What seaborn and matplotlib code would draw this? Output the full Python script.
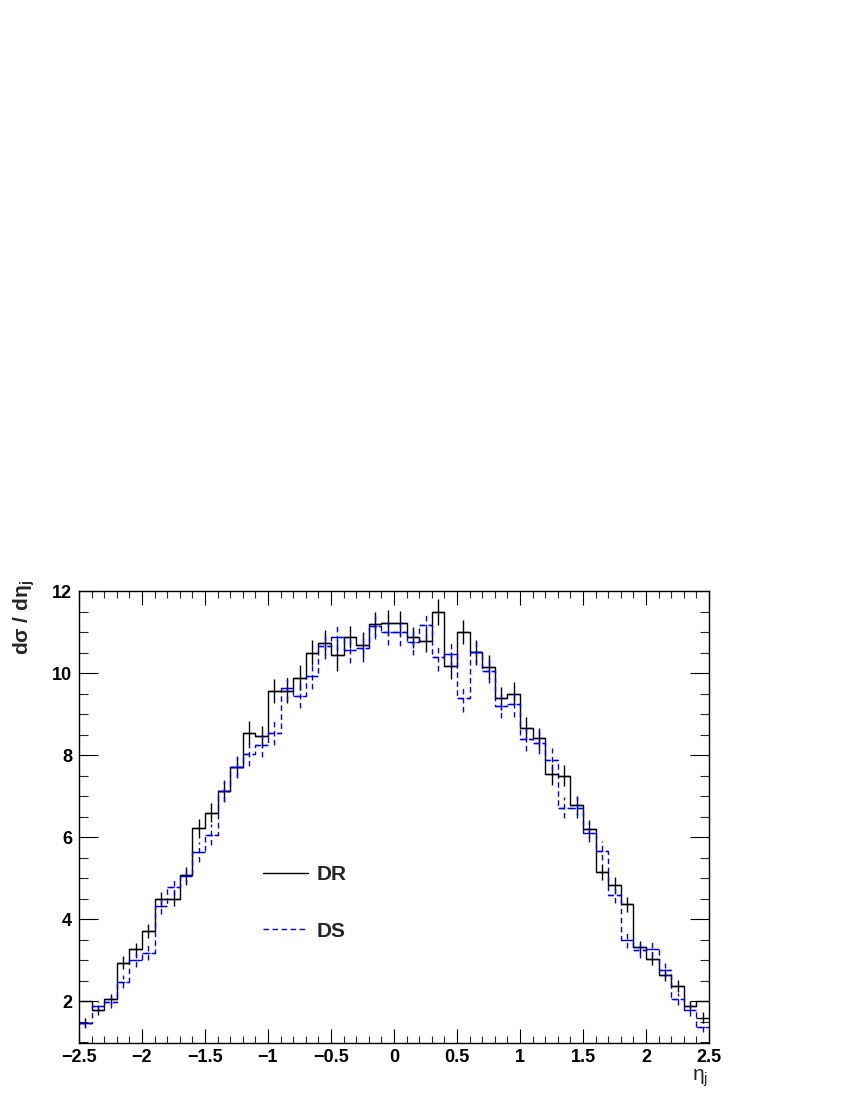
import numpy as np
import pandas as pd
import matplotlib
matplotlib.use('Agg')
import matplotlib.pyplot as plt
from matplotlib.lines import Line2D
from matplotlib.ticker import MultipleLocator, FuncFormatter
import seaborn as sns

# binning: 50 bins in eta_j
eta_lo, eta_hi, nbins = -2.5, 2.5, 50

# DR histogram outline and DR points (error crosses)
dr_hist = [2.00, 1.78, 2.05, 2.94, 3.26, 3.71, 4.48, 4.50, 5.07, 6.21,
           6.59, 7.12, 7.71, 8.55, 8.46, 9.57, 9.56, 9.89, 10.50, 10.74,
           10.43, 10.87, 10.69, 11.20, 11.23, 11.22, 10.87, 10.79, 11.49, 10.18,
           11.01, 10.52, 10.15, 9.38, 9.50, 8.65, 8.41, 7.53, 7.50, 6.78,
           6.20, 5.15, 4.83, 4.36, 3.31, 3.04, 2.63, 2.37, 1.89, 2.00]
dr_pts = [1.47, 1.78, 2.05, 2.94, 3.26, 3.71, 4.48, 4.50, 5.07, 6.21,
          6.59, 7.12, 7.71, 8.55, 8.46, 9.57, 9.56, 9.89, 10.50, 10.74,
          10.43, 10.87, 10.69, 11.20, 11.23, 11.22, 10.87, 10.79, 11.49, 10.18,
          11.01, 10.52, 10.15, 9.38, 9.50, 8.65, 8.41, 7.53, 7.50, 6.78,
          6.20, 5.15, 4.83, 4.36, 3.31, 3.04, 2.63, 2.37, 1.89, 1.60]
dr_err = [0.11, 0.12, 0.13, 0.15, 0.16, 0.17, 0.19, 0.19, 0.20, 0.22,
          0.23, 0.24, 0.25, 0.27, 0.26, 0.29, 0.28, 0.30, 0.30, 0.30,
          0.38, 0.27, 0.30, 0.30, 0.30, 0.30, 0.26, 0.28, 0.31, 0.33,
          0.29, 0.29, 0.29, 0.28, 0.28, 0.27, 0.26, 0.25, 0.25, 0.23,
          0.22, 0.20, 0.20, 0.19, 0.16, 0.16, 0.15, 0.14, 0.12, 0.13]

# DS
ds_vals = [1.47, 1.88, 1.98, 2.47, 3.00, 3.18, 4.33, 4.79, 5.05, 5.64,
           6.06, 7.12, 7.71, 8.02, 8.24, 8.54, 9.63, 9.44, 9.93, 10.67,
           10.89, 10.56, 10.60, 11.14, 10.99, 10.99, 10.76, 11.16, 10.39, 10.46,
           9.38, 10.52, 10.06, 9.20, 9.24, 8.38, 8.30, 7.89, 6.72, 6.72,
           6.11, 5.67, 4.60, 3.49, 3.24, 3.26, 2.77, 2.05, 1.78, 1.36]
ds_err = [0.12, 0.13, 0.14, 0.16, 0.17, 0.18, 0.20, 0.21, 0.22, 0.24,
          0.25, 0.26, 0.27, 0.28, 0.28, 0.29, 0.30, 0.30, 0.31, 0.32,
          0.33, 0.31, 0.34, 0.32, 0.30, 0.32, 0.32, 0.33, 0.33, 0.32,
          0.34, 0.32, 0.31, 0.30, 0.30, 0.29, 0.28, 0.28, 0.26, 0.26,
          0.24, 0.23, 0.21, 0.19, 0.18, 0.18, 0.17, 0.14, 0.13, 0.12]

edges = np.linspace(eta_lo, eta_hi, nbins + 1)
centers = 0.5 * (edges[:-1] + edges[1:])
half_w = 0.5 * (edges[1] - edges[0])

df = pd.DataFrame({'eta': centers, 'dr': dr_hist, 'ds': ds_vals})

sns.set_theme(style='ticks')
plt.rcParams['font.family'] = ['Liberation Sans', 'DejaVu Sans']
plt.rcParams['axes.unicode_minus'] = True

fig = plt.figure(figsize=(8.5, 11), dpi=100)
ax = fig.add_axes([79 / 850, 1 - 1043 / 1100, 630 / 850, 452 / 1100])

# histogram outlines
sns.histplot(data=df, x='eta', weights='dr', bins=list(edges), element='step', fill=False,
             color='black', linewidth=1.0, ax=ax)
sns.histplot(data=df, x='eta', weights='ds', bins=list(edges), element='step', fill=False,
             color='#0000ff', linewidth=1.0, linestyle=(0, (4, 2.5)), ax=ax)

# error crosses
ax.errorbar(centers, dr_pts, yerr=dr_err, xerr=half_w, fmt='none',
            ecolor='black', elinewidth=1.0, capsize=0)
eb = ax.errorbar(centers, ds_vals, yerr=ds_err, xerr=half_w, fmt='none',
                 ecolor='#0000ff', elinewidth=1.0, capsize=0)
for lc in eb[2]:
    lc.set_linestyle((0, (4, 2.5)))

ax.set_xlim(eta_lo, eta_hi)
ax.set_ylim(0.98, 12.0)

ax.xaxis.set_major_locator(MultipleLocator(0.5))
ax.xaxis.set_minor_locator(MultipleLocator(0.1))
ax.yaxis.set_major_locator(MultipleLocator(2))
ax.yaxis.set_minor_locator(MultipleLocator(0.5))
ax.xaxis.set_major_formatter(FuncFormatter(lambda v, p: f'{v:g}'.replace('-', '\u2212')))

ax.tick_params(axis='x', which='major', direction='in', length=9.8, width=0.8,
               top=True, bottom=True, pad=4, labelsize=13, colors='black')
ax.tick_params(axis='x', which='minor', direction='in', length=4.9, width=0.8,
               top=True, bottom=True)
ax.tick_params(axis='y', which='major', direction='in', length=13.7, width=0.8,
               left=True, right=True, pad=5, labelsize=13, colors='black')
ax.tick_params(axis='y', which='minor', direction='in', length=6.8, width=0.8,
               left=True, right=True)
for lab in ax.get_xticklabels() + ax.get_yticklabels():
    lab.set_fontweight('bold')

for sp in ax.spines.values():
    sp.set_linewidth(1.0)
    sp.set_color('black')

ax.set_ylabel('d\u03c3 / d\u03b7$_{\\mathregular{j}}$', fontsize=15, fontweight='bold', loc='top')
ax.yaxis.set_label_coords(-0.067, 1.024)
ax.set_xlabel('\u03b7$_{\\mathregular{j}}$', fontsize=15, loc='right')
ax.xaxis.set_label_coords(0.998, -0.053)

handles = [Line2D([], [], color='black', lw=1.0),
           Line2D([], [], color='#0000ff', lw=1.0, linestyle=(0, (4, 2.5)))]
ax.legend(handles, ['DR', 'DS'], loc='center left', bbox_to_anchor=(0.262, 0.31),
          frameon=False, prop={'weight': 'bold', 'size': 15},
          handlelength=2.16, handletextpad=0.4, labelspacing=1.81)

fig.savefig('out.png', dpi=100)
